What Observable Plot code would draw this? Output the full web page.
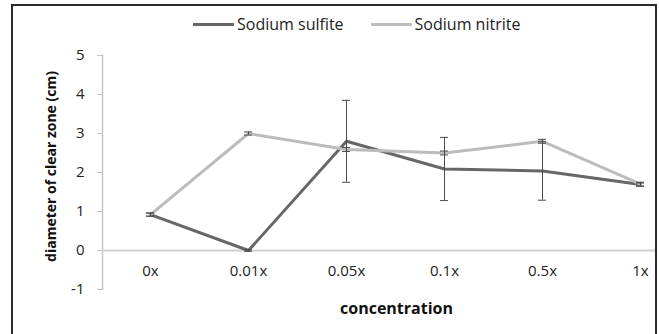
<!DOCTYPE html>
<html>
<head>
<meta charset="utf-8">
<script src="https://cdn.jsdelivr.net/npm/d3@7"></script>
<script src="https://cdn.jsdelivr.net/npm/@observablehq/plot@0.6"></script>
<style>
  html, body { margin: 0; padding: 0; background: #fff; }
  #wrap { position: relative; width: 659px; height: 334px; overflow: hidden; font-family: "Open Sans", sans-serif; }
  #border { position: absolute; left: 11px; top: 4px; width: 642px; height: 400px; border: 2px solid #2b2b2b; border-bottom: none; pointer-events: none; }
  #legend { position: absolute; left: 193px; top: 13px; height: 22px; display: flex; align-items: center; font-size: 16px; color: #222; }
  #legend .item { display: flex; align-items: center; margin-right: 27px; }
  #legend .sw { width: 41px; height: 3px; margin-right: 3px; }
  #chart { position: absolute; left: 0; top: 40px; }
</style>
</head>
<body>
<div id="wrap">
  <div id="legend"></div>
  <div id="chart"></div>
  <div id="border"></div>
</div>
<script>
const categories = ["0x", "0.01x", "0.05x", "0.1x", "0.5x", "1x"];
const seriesNames = ["Sodium sulfite", "Sodium nitrite"];
const seriesColors = ["#676767", "#bcbcbc"];
const sulfite = [0.92, 0.0, 2.80, 2.09, 2.04, 1.69];
const sulfiteErr = [0.04, 0.02, 1.05, 0.81, 0.75, 0.04];
const nitrite = [0.92, 3.0, 2.59, 2.50, 2.80, 1.70];
const nitriteErr = [0.04, 0.04, 0.05, 0.05, 0.05, 0.05];
const yTicks = [-1, 0, 1, 2, 3, 4, 5];

const rows = [];
[[sulfite, sulfiteErr], [nitrite, nitriteErr]].forEach(([vals, errs], s) => {
  vals.forEach((v, i) => rows.push({series: seriesNames[s], cat: categories[i], v, lo: v - errs[i], hi: v + errs[i]}));
});

// legend
const legend = document.getElementById("legend");
seriesNames.forEach((n, i) => {
  const it = document.createElement("div");
  it.className = "item";
  it.innerHTML = `<span class="sw" style="background:${seriesColors[i]}"></span><span>${n}</span>`;
  legend.appendChild(it);
});

const chart = Plot.plot({
  width: 659,
  height: 294,
  marginTop: 15,
  marginBottom: 45,
  marginLeft: 102,
  marginRight: 3,
  style: {fontFamily: "Open Sans, sans-serif", fontSize: "15px", color: "#222", background: "transparent", overflow: "visible"},
  x: {type: "band", domain: categories, range: [101, 689], padding: 0, axis: null},
  y: {domain: [-1, 5], axis: null},
  color: {domain: seriesNames, range: seriesColors},
  marks: [
    Plot.frame({anchor: "left", stroke: "#c4c4c4", strokeWidth: 1.5}),
    Plot.axisY(yTicks, {anchor: "left", tickSize: 5, tickPadding: 13, stroke: "#c4c4c4", fill: "#222", label: null, tickFormat: d => String(d), fontSize: 15}),
    Plot.axisX({anchor: "bottom", tickSize: 0, tickPadding: -24, fill: "#222", label: null, fontSize: 15}),
    Plot.ruleY([0], {stroke: "#d0d0d0", strokeWidth: 2}),
    Plot.lineY(rows, {x: "cat", y: "v", z: "series", stroke: "series", strokeWidth: 3}),
    Plot.ruleX(rows, {x: "cat", y1: "lo", y2: "hi", stroke: "#4a4a4a", strokeWidth: 1}),
    Plot.tickY(rows, {x: "cat", y: "lo", stroke: "#4a4a4a", strokeWidth: 1, insetLeft: 45, insetRight: 45}),
    Plot.tickY(rows, {x: "cat", y: "hi", stroke: "#4a4a4a", strokeWidth: 1, insetLeft: 45, insetRight: 45}),
    Plot.text(["concentration"], {frameAnchor: "bottom", dy: 24, dx: 17, fontWeight: "bold", fontSize: 16, fill: "#111"}),
    Plot.text(["diameter of clear zone (cm)"], {frameAnchor: "left", textAnchor: "middle", rotate: -90, dx: -51, dy: -6, fontWeight: "bold", fontSize: 14, fill: "#111"})
  ]
});
document.getElementById("chart").appendChild(chart);
</script>
</body>
</html>
